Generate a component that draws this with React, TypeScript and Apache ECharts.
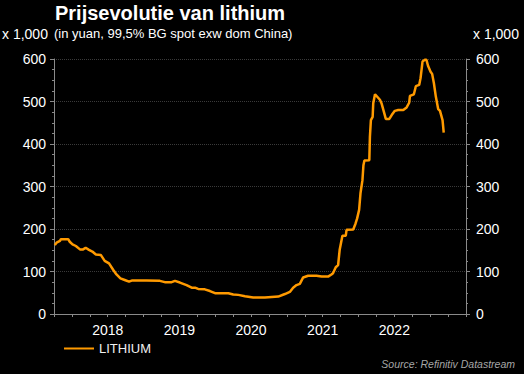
import React, { useEffect, useRef } from "react";
import * as echarts from "echarts";

const seriesName = "LITHIUM";
const dates: string[] = [
  "2017-10-06", "2017-10-15", "2017-11-01", "2017-11-06", "2017-11-26", "2017-12-13", "2017-12-21",
  "2018-01-04", "2018-01-21", "2018-02-11", "2018-02-27", "2018-03-12", "2018-03-29", "2018-04-15",
  "2018-05-03", "2018-05-28", "2018-06-17", "2018-07-09", "2018-07-30", "2018-08-16", "2018-09-05",
  "2018-09-27", "2018-10-19", "2018-11-05", "2019-01-16", "2019-03-25", "2019-04-19", "2019-05-24",
  "2019-06-10", "2019-07-05", "2019-08-08", "2019-09-03", "2019-09-20", "2019-10-06", "2019-11-09",
  "2019-12-05", "2019-12-31", "2020-03-08", "2020-04-02", "2020-04-28", "2020-06-01", "2020-07-13",
  "2020-09-11", "2020-11-18", "2020-12-22", "2021-01-16", "2021-02-02", "2021-02-19", "2021-03-08",
  "2021-03-25", "2021-04-19", "2021-06-01", "2021-06-27", "2021-07-30", "2021-08-16", "2021-08-24",
  "2021-09-07", "2021-09-19", "2021-09-27", "2021-10-11", "2021-10-28", "2021-11-01", "2021-12-05",
  "2021-12-17", "2021-12-25", "2022-01-04", "2022-01-11", "2022-01-21", "2022-01-26", "2022-01-31",
  "2022-02-25", "2022-02-28", "2022-03-05", "2022-03-14", "2022-03-17", "2022-03-26", "2022-04-03",
  "2022-04-20", "2022-04-28", "2022-05-10", "2022-05-20", "2022-06-07", "2022-06-19", "2022-07-05",
  "2022-07-22", "2022-08-17", "2022-09-03", "2022-09-16", "2022-09-20", "2022-10-10", "2022-10-20",
  "2022-11-06", "2022-11-13", "2022-11-23", "2022-12-05", "2022-12-13", "2022-12-21", "2023-01-03",
  "2023-01-11", "2023-01-20", "2023-01-30", "2023-02-11", "2023-02-20", "2023-03-05", "2023-03-11",
];
const values: number[] = [
  162, 168, 172, 176, 176, 176, 170,
  164, 160, 152, 152, 156, 151, 147,
  140, 139, 125, 119, 104, 93, 84,
  80, 76, 79, 79, 78, 75, 75,
  78, 74, 68, 62, 62, 59, 58,
  54, 49, 49, 46, 45, 42, 39,
  39, 41, 47, 52, 62, 68, 71,
  86, 90, 90, 88, 88, 93, 96,
  110, 115, 151, 184, 184, 198, 199,
  213, 225, 245, 284, 315, 350, 361,
  362, 417, 456, 464, 496, 517, 513,
  504, 496, 476, 459, 459, 468, 478,
  480, 480, 486, 497, 513, 517, 536,
  539, 555, 594, 598, 598, 584, 570,
  565, 543, 511, 482, 478, 456, 427,
];
const yTicks = [0, 100, 200, 300, 400, 500, 600];
const yearLabels = [2018, 2019, 2020, 2021, 2022];

const toYear = (s: string): number => {
  const d = new Date(s + "T00:00:00Z");
  const y = d.getUTCFullYear();
  const start = Date.UTC(y, 0, 1);
  const end = Date.UTC(y + 1, 0, 1);
  return y + (d.getTime() - start) / (end - start);
};

const FONT = "'Liberation Sans', Arial, sans-serif";
const AXIS_COLOR = "#8a8a8a";
const LINE_COLOR = "#FF9A00";

export default function App() {
  const ref = useRef<HTMLDivElement>(null);
  useEffect(() => {
    if (!ref.current) return;
    const chart = echarts.init(ref.current, undefined, { renderer: "svg" });
    const data = dates.map((d, i) => [toYear(d), values[i]]);
    const yAxisBase = (pos: "left" | "right", margin: number) => ({
      type: "value" as const,
      position: pos,
      min: yTicks[0],
      max: yTicks[yTicks.length - 1],
      interval: 100,
      axisLine: { show: true, lineStyle: { color: AXIS_COLOR, width: 1 } },
      axisTick: { show: true, inside: false, length: 4, lineStyle: { color: AXIS_COLOR } },
      minorTick: { show: true, splitNumber: 4, length: 2, lineStyle: { color: AXIS_COLOR } },
      axisLabel: { color: "#ffffff", fontSize: 14, fontFamily: FONT, margin },
    });
    chart.setOption({
      animation: false,
      backgroundColor: "#000000",
      textStyle: { fontFamily: FONT },
      grid: { left: 54, right: 58, top: 59, bottom: 60, containLabel: false },
      legend: {
        show: true,
        left: 59,
        top: 337,
        icon: "rect",
        itemWidth: 30,
        itemHeight: 2,
        itemGap: 5,
        textStyle: { color: "#f0f0f0", fontSize: 13, fontFamily: FONT },
        data: [seriesName],
      },
      xAxis: {
        type: "value",
        min: 2017.75,
        max: 2023.5,
        interval: 0.25,
        axisLine: { show: true, onZero: false, lineStyle: { color: AXIS_COLOR } },
        axisTick: { show: true, inside: false, length: 3, lineStyle: { color: AXIS_COLOR } },
        splitLine: { show: false },
        axisLabel: {
          color: "#ffffff",
          fontSize: 14,
          fontFamily: FONT,
          margin: 9,
          formatter: (v: number) => {
            const y = Math.floor(v);
            return Math.abs(v - y - 0.5) < 1e-6 && yearLabels.indexOf(y) >= 0 ? String(y) : "";
          },
        },
      },
      yAxis: [
        {
          ...yAxisBase("left", 8),
          splitLine: { show: true, lineStyle: { color: "#3a3a3a", type: "dotted", width: 1 } },
        },
        {
          ...yAxisBase("right", 10),
          splitLine: { show: false },
        },
      ],
      series: [
        {
          name: seriesName,
          type: "line",
          data,
          showSymbol: false,
          symbol: "none",
          lineStyle: { color: LINE_COLOR, width: 2.5 },
          itemStyle: { color: LINE_COLOR },
          yAxisIndex: 0,
        },
      ],
      graphic: [
        {
          type: "text",
          left: 55,
          top: 3,
          style: { text: "Prijsevolutie van lithium", fill: "#ffffff", font: `bold 20px ${FONT}` },
        },
        {
          type: "text",
          left: 54,
          top: 27,
          style: { text: "(in yuan, 99,5% BG spot exw dom China)", fill: "#ffffff", font: `13px ${FONT}` },
        },
        {
          type: "text",
          left: 2,
          top: 27,
          style: { text: "x 1,000", fill: "#ffffff", font: `14px ${FONT}` },
        },
        {
          type: "text",
          left: 473,
          top: 27,
          style: { text: "x 1,000", fill: "#ffffff", font: `14px ${FONT}` },
        },
        {
          type: "text",
          right: 9,
          top: 358,
          style: { text: "Source: Refinitiv Datastream", fill: "#a6a6a6", font: `italic 10.5px ${FONT}` },
        },
      ],
    });
    return () => chart.dispose();
  }, []);
  return (
    <div
      ref={ref}
      style={{ position: "absolute", left: 0, top: 0, width: 524, height: 374 }}
    />
  );
}
